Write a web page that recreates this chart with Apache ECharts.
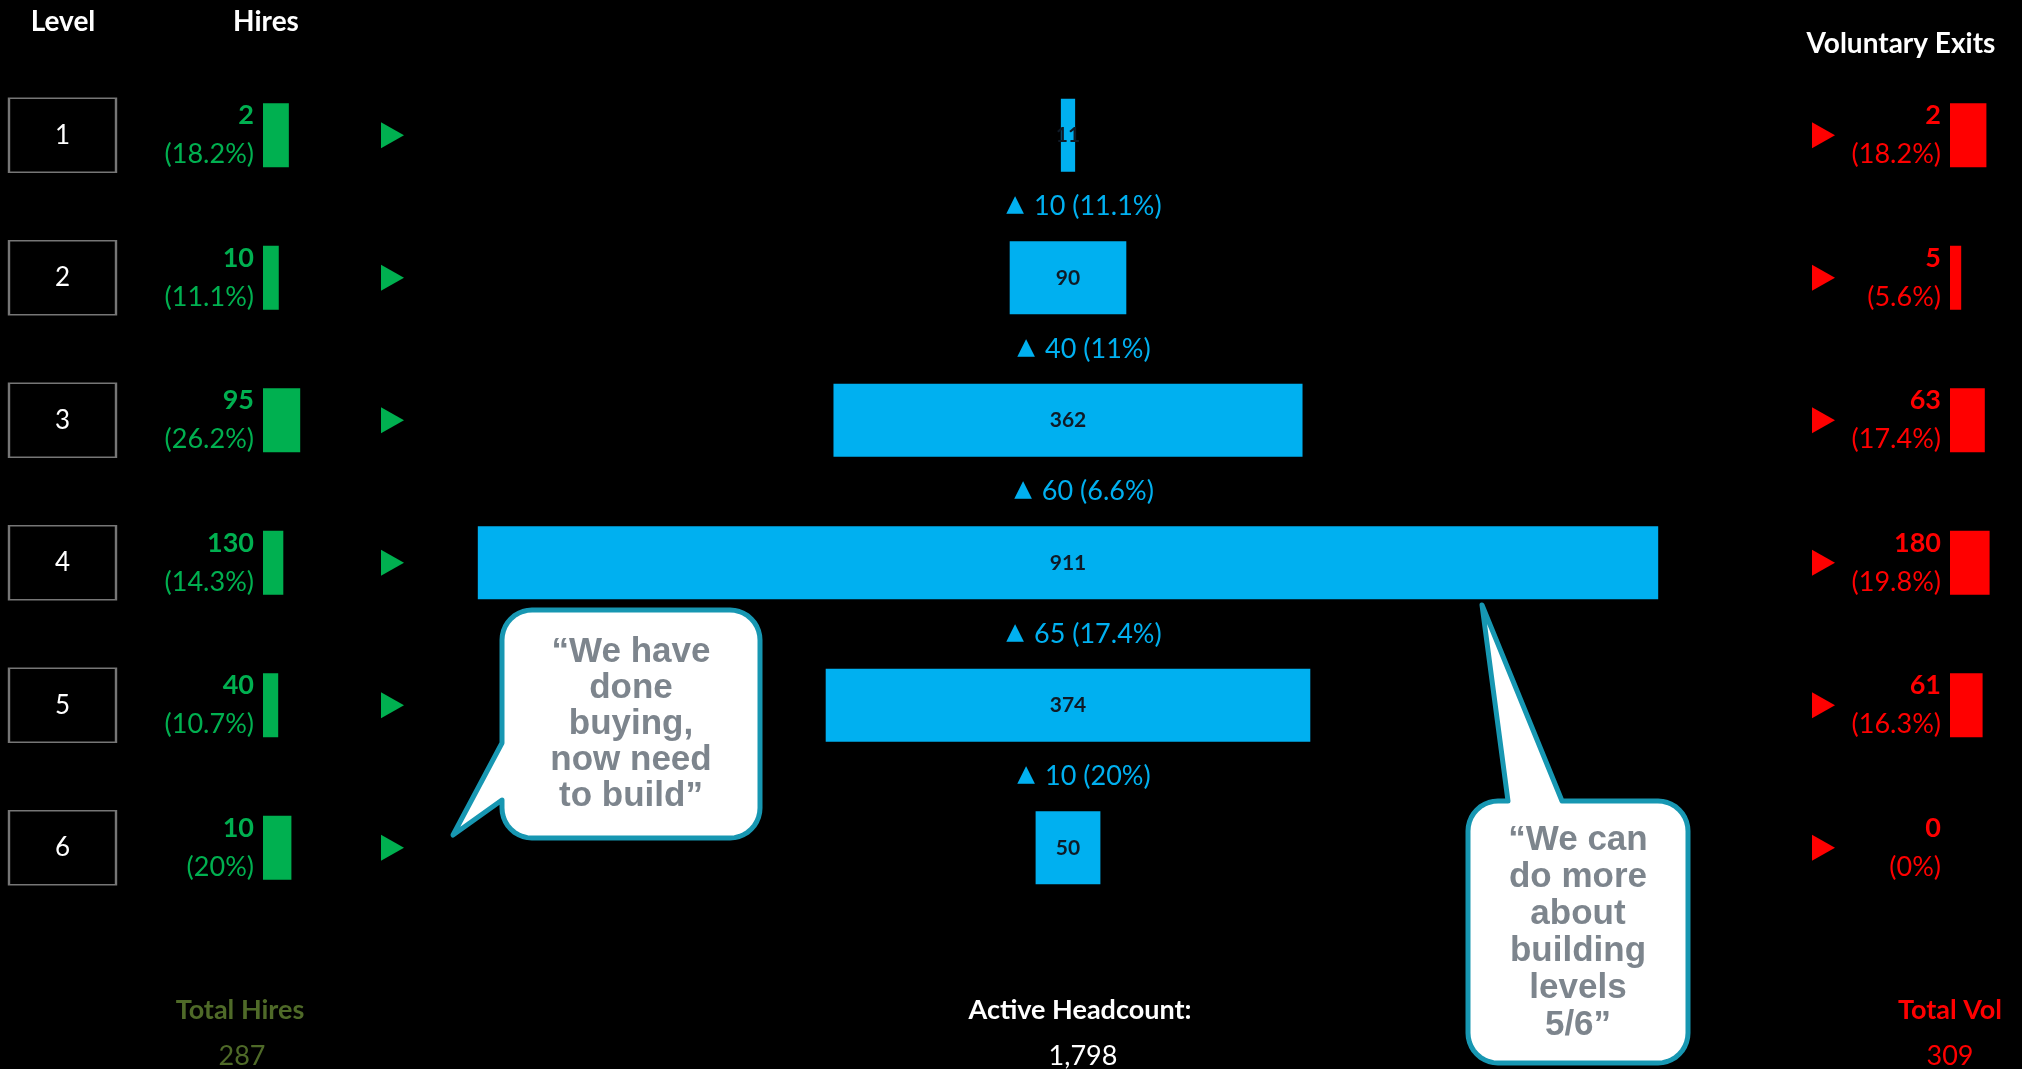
<!DOCTYPE html>
<html>
<head>
<meta charset="utf-8">
<title>Headcount by Level</title>
<script src="https://cdn.jsdelivr.net/npm/echarts@6/dist/echarts.min.js"></script>
<style>
  html, body { margin: 0; padding: 0; background: #000; }
  #chart { width: 2022px; height: 1069px; }
</style>
</head>
<body>
<div id="chart"></div>
<script>
// ---- data ----
const levels = ['1', '2', '3', '4', '5', '6'];
const hires = [2, 10, 95, 130, 40, 10];
const hiresPct = [18.2, 11.1, 26.2, 14.3, 10.7, 20];
const headcount = [11, 90, 362, 911, 374, 50];
const exits = [2, 5, 63, 180, 61, 0];
const exitsPct = [18.2, 5.6, 17.4, 19.8, 16.3, 0];
// growth between consecutive levels (level n -> level n+1)
const growth = [10, 40, 60, 65, 10];
const growthPct = [11.1, 11, 6.6, 17.4, 20];
const totalHires = 287;
const activeHeadcount = 1798;
const totalVol = 309;

const quoteBuy = '\u201CWe have\ndone\nbuying,\nnow need\nto build\u201D';
const quoteBuild = '\u201CWe can\ndo more\nabout\nbuilding\nlevels\n5/6\u201D';

// ---- style ----
const FONT = 'Lato, "Open Sans", sans-serif';
const QUOTE_FONT = '"Liberation Sans", Arial, sans-serif';
const GREEN = '#00b050';
const RED = '#ff0000';
const BLUE = '#00b0f0';
const OLIVE = '#4f6a28';
const TEAL = '#1797b2';
const QUOTE_GREY = '#7d858d';

const GRID_TOP = 64;
const GRID_H = 855;

const chart = echarts.init(document.getElementById('chart'), null, { renderer: 'canvas' });

function grid(left, width) {
  return { left: left, width: width, top: GRID_TOP, height: GRID_H, containLabel: false };
}
function xAxis(gridIndex, min, max) {
  return {
    type: 'value', gridIndex: gridIndex, min: min, max: max,
    axisLine: { show: false }, axisTick: { show: false },
    axisLabel: { show: false }, splitLine: { show: false }
  };
}
function yAxis(gridIndex) {
  return {
    type: 'category', gridIndex: gridIndex, data: levels, inverse: true,
    axisLine: { show: false }, axisTick: { show: false },
    axisLabel: { show: false }, splitLine: { show: false }
  };
}
const pctText = p => '(' + p + '%)';

function barLabel(color, values, pcts) {
  return {
    show: true,
    position: 'left',
    distance: 9,
    align: 'right',
    formatter: p => '{v|' + values[p.dataIndex] + '}\n{p|' + pctText(pcts[p.dataIndex]) + '}',
    rich: {
      v: { color: color, fontFamily: FONT, fontWeight: 'bold', fontSize: 27, lineHeight: 39, align: 'right' },
      p: { color: color, fontFamily: FONT, fontSize: 27, lineHeight: 39, align: 'right' }
    }
  };
}

// outline of a rounded speech bubble with a pointed tail
function bubble(x, y, w, h, r, tail) {
  const pts = [];
  const arc = (cx, cy, a0, a1) => {
    for (let k = 0; k <= 10; k++) {
      const a = (a0 + (a1 - a0) * k / 10) * Math.PI / 180;
      pts.push([cx + r * Math.cos(a), cy + r * Math.sin(a)]);
    }
  };
  arc(x + r, y + r, 180, 270);
  if (tail.side === 'top') tail.pts.forEach(p => pts.push(p));
  arc(x + w - r, y + r, 270, 360);
  arc(x + w - r, y + h - r, 0, 90);
  arc(x + r, y + h - r, 90, 180);
  if (tail.side === 'left') tail.pts.forEach(p => pts.push(p));
  return pts;
}

function text(x, y, str, color, size, bold, family, lineHeight) {
  const style = {
    text: str, fill: color, fontFamily: family || FONT, fontSize: size,
    fontWeight: bold ? 'bold' : 'normal',
    align: 'center', verticalAlign: 'middle',
    textAlign: 'center', textVerticalAlign: 'middle'
  };
  if (lineHeight) style.lineHeight = lineHeight;
  return { type: 'text', x: x, y: y, z: 100, style: style };
}

const option = {
  backgroundColor: '#000',
  animation: false,
  grid: [
    grid(9, 107),      // level boxes
    grid(263, 71),     // hires bars
    grid(381, 23),     // hires arrows
    grid(161, 1814),   // headcount funnel
    grid(1812, 23),    // exit arrows
    grid(1950, 70)     // exit bars
  ],
  xAxis: [
    xAxis(0, 0, 1), xAxis(1, 0, 50), xAxis(2, 0, 1),
    xAxis(3, -700, 700), xAxis(4, 0, 1), xAxis(5, 0, 35)
  ],
  yAxis: [yAxis(0), yAxis(1), yAxis(2), yAxis(3), yAxis(4), yAxis(5)],
  series: [
    {
      name: 'Level', type: 'scatter', xAxisIndex: 0, yAxisIndex: 0,
      data: levels.map(l => [0.5, l]),
      symbol: 'rect', symbolSize: [107, 74],
      itemStyle: { color: 'rgba(0,0,0,0)', borderColor: '#767676', borderWidth: 2, opacity: 1 },
      label: {
        show: true, position: 'inside', formatter: p => p.value[1],
        color: '#fff', fontFamily: FONT, fontSize: 26
      },
      silent: true
    },
    {
      name: 'Hires', type: 'bar', xAxisIndex: 1, yAxisIndex: 1,
      data: hiresPct, barWidth: 64,
      itemStyle: { color: GREEN },
      label: barLabel(GREEN, hires, hiresPct)
    },
    {
      name: 'Hires arrow', type: 'scatter', xAxisIndex: 2, yAxisIndex: 2,
      data: levels.map(l => [0.5, l]),
      symbol: 'triangle', symbolRotate: -90, symbolSize: [26, 23],
      itemStyle: { color: GREEN, opacity: 1 }, silent: true
    },
    {
      name: 'Active Headcount', type: 'custom', xAxisIndex: 3, yAxisIndex: 3,
      data: headcount.map((v, i) => [v, i]),
      encode: { x: 0, y: 1 },
      renderItem: function (params, api) {
        const v = api.value(0);
        const cat = api.value(1);
        const c = api.coord([0, cat]);
        const l = api.coord([-v / 2, cat]);
        const r = api.coord([v / 2, cat]);
        const h = 73;
        return {
          type: 'group',
          children: [
            { type: 'rect', shape: { x: l[0], y: c[1] - h / 2, width: r[0] - l[0], height: h }, style: { fill: BLUE } },
            {
              type: 'text', x: c[0], y: c[1],
              style: {
                text: String(v), fill: '#0f1a26', fontFamily: FONT, fontSize: 21, fontWeight: 'bold',
                align: 'center', verticalAlign: 'middle',
                textAlign: 'center', textVerticalAlign: 'middle'
              }
            }
          ]
        };
      }
    },
    {
      name: 'Growth', type: 'custom', xAxisIndex: 3, yAxisIndex: 3,
      data: growth.map((g, i) => [0, i, g, growthPct[i]]),
      encode: { x: 0, y: 1 },
      renderItem: function (params, api) {
        const cat = api.value(1);
        const g = api.value(2);
        const pct = api.value(3);
        const c = api.coord([0, cat]);
        const band = api.size([0, 1])[1];
        return {
          type: 'text', x: c[0] + 16, y: c[1] + band / 2,
          style: {
            text: '{t|\u25B2}{n|' + g + ' (' + pct + '%)}',
            align: 'center', verticalAlign: 'middle',
            textAlign: 'center', textVerticalAlign: 'middle',
            rich: {
              t: { fill: BLUE, color: BLUE, fontFamily: '"DejaVu Sans"', fontSize: 23, padding: [0, 10, 2, 0] },
              n: { fill: BLUE, color: BLUE, fontFamily: FONT, fontSize: 27 }
            }
          }
        };
      }
    },
    {
      name: 'Exit arrow', type: 'scatter', xAxisIndex: 4, yAxisIndex: 4,
      data: levels.map(l => [0.5, l]),
      symbol: 'triangle', symbolRotate: -90, symbolSize: [26, 23],
      itemStyle: { color: RED, opacity: 1 }, silent: true
    },
    {
      name: 'Voluntary Exits', type: 'bar', xAxisIndex: 5, yAxisIndex: 5,
      data: exitsPct, barWidth: 64,
      itemStyle: { color: RED },
      label: barLabel(RED, exits, exitsPct)
    }
  ],
  graphic: [
    text(63, 22, 'Level', '#fff', 28, true),
    text(266, 22, 'Hires', '#fff', 28, true),
    text(1901, 44, 'Voluntary Exits', '#fff', 28, true),
    text(240, 1010, 'Total Hires', OLIVE, 27, true),
    text(242, 1056, String(totalHires), OLIVE, 27, false),
    text(1080, 1010, 'Active Headcount:', '#fff', 27, true),
    text(1083, 1056, activeHeadcount.toLocaleString('en-US'), '#fff', 27, false),
    text(1950, 1010, 'Total Vol', RED, 27, true),
    text(1950, 1056, String(totalVol), RED, 27, false),
    {
      type: 'polygon', z: 90,
      shape: { points: bubble(502, 610, 258, 228, 30, { side: 'left', pts: [[502, 800], [453, 835], [502, 743]] }) },
      style: { fill: '#fff', stroke: TEAL, lineWidth: 5, lineJoin: 'round' }
    },
    text(631, 724, quoteBuy, QUOTE_GREY, 35, true, QUOTE_FONT, 36),
    {
      type: 'polygon', z: 90,
      shape: { points: bubble(1468, 801, 220, 262, 30, { side: 'top', pts: [[1508, 801], [1482, 605], [1562, 801]] }) },
      style: { fill: '#fff', stroke: TEAL, lineWidth: 5, lineJoin: 'round' }
    },
    text(1578, 933, quoteBuild, QUOTE_GREY, 35, true, QUOTE_FONT, 37)
  ]
};

chart.setOption(option);
</script>
</body>
</html>
